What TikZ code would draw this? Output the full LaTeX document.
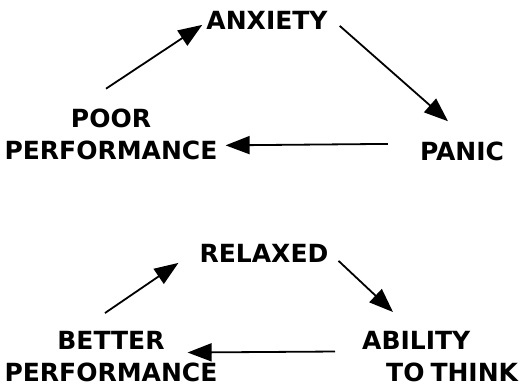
\documentclass[tikz,border=0pt]{standalone}
\usepackage{fontspec}
\setmainfont{DejaVu Sans}
\usetikzlibrary{arrows.meta}

\begin{document}
\begin{tikzpicture}[x=1pt,y=-1pt,
  word/.style={inner sep=0pt,font=\fontsize{25}{32}\selectfont\bfseries},
  arr/.style={line width=1.8pt,-{Triangle[length=24pt,width=18pt]}}]
\fill[white] (0,0) rectangle (525,389);
\useasboundingbox (0,0) rectangle (525,389);
\node[word,anchor=base] (anx) at (267,29) {ANXIETY};
\node[word,anchor=base] (panic) at (462,160) {PANIC};
\node[word,align=center,anchor=south] (poor) at (111,160) {POOR\\PERFORMANCE};
\draw[arr] ([xshift=-5pt,yshift=20pt]poor.north) -- ([xshift=-4pt,yshift=-5pt]anx.west);
\draw[arr] ([xshift=12pt,yshift=-6pt]anx.east) -- ([xshift=-14pt,yshift=20pt]panic.north);
\draw[arr] ([xshift=-32pt,yshift=7pt]panic.west) -- ([xshift=8pt,yshift=-11pt]poor.east);
\node[word,anchor=base] (rel) at (264,262) {RELAXED};
\node[word,align=center,anchor=south] (better) at (111,382) {BETTER\\PERFORMANCE};
\node[word,align=left,anchor=south west] (think) at (362,382) {ABILITY\\\hspace*{24pt}TO\hspace{6pt}THINK};
\draw[arr] ([xshift=-6pt,yshift=18pt]better.north) -- ([xshift=-21pt,yshift=-10pt]rel.west);
\draw[arr] ([xshift=10pt,yshift=-8pt]rel.east) -- ([xshift=31pt,yshift=19pt]think.north west);
\draw[arr] ([xshift=-27pt,yshift=5pt]think.west) -- ([xshift=-30pt,yshift=4pt]better.east);
\end{tikzpicture}
\end{document}
